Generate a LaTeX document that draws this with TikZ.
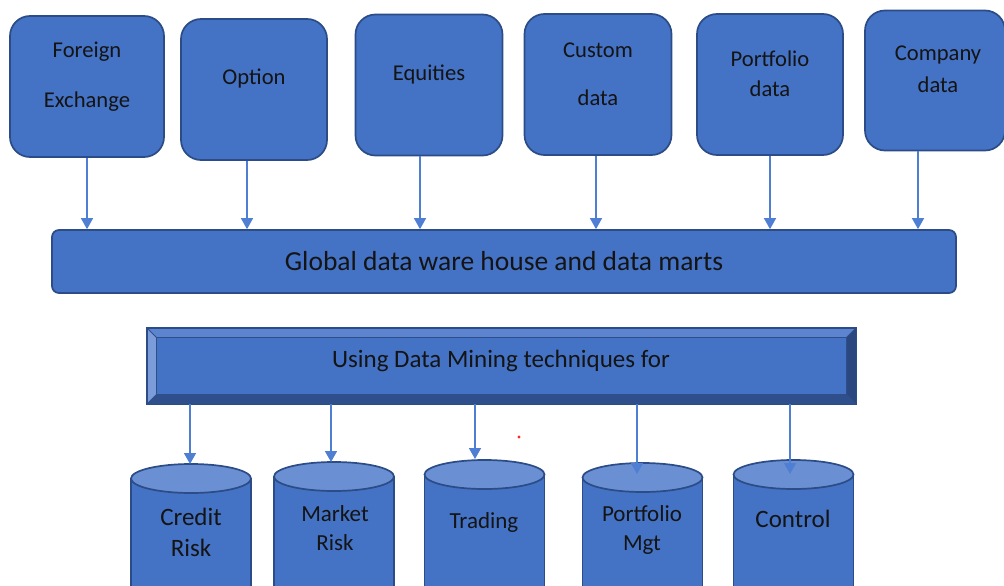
\documentclass[tikz,border=0pt]{standalone}
\usepackage{fontspec}
\setmainfont{Carlito}
\usetikzlibrary{arrows.meta,shapes.geometric}
\definecolor{boxfill}{HTML}{4472C4}
\definecolor{boxline}{HTML}{2B4C86}
\definecolor{arrowcol}{HTML}{4F7FD3}
\definecolor{capfill}{HTML}{6A8FD3}
\definecolor{txt}{HTML}{141414}
\definecolor{bevlight}{HTML}{7C9BD9}
\definecolor{bevtop}{HTML}{5D84CE}
\definecolor{bevdark}{HTML}{2E4F8C}
\definecolor{bevright}{HTML}{2A4780}
\tikzset{
  srcbox/.style={draw=boxline, fill=boxfill, line width=1.7pt, rounded corners=20pt},
  label/.style={inner sep=0pt, text=txt, anchor=center},
  feed/.style={draw=arrowcol, line width=1.6pt, -{Triangle[width=12pt,length=11pt]}},
  capstyle/.style={ellipse, draw=boxline, fill=capfill, line width=1.7pt, inner sep=0pt},
}
\begin{document}
\begin{tikzpicture}[x=1pt,y=-1pt]
\useasboundingbox (0,0) rectangle (1004,586);
\clip (0,0) rectangle (1004,586);

% source boxes
\node[srcbox, minimum width=154pt, minimum height=141pt] (fx) at (87,86.5) {};
\node[srcbox, minimum width=146pt, minimum height=141pt] (opt) at (254,89.5) {};
\node[srcbox, minimum width=147pt, minimum height=141pt] (eq) at (429,85) {};
\node[srcbox, minimum width=147pt, minimum height=141pt] (cus) at (598,84.5) {};
\node[srcbox, minimum width=146pt, minimum height=141pt] (pf) at (770,84.5) {};
\node[srcbox, minimum width=140pt, minimum height=140pt] (co) at (935,80.5) {};

\begin{scope}[font=\fontsize{22.6}{25}\selectfont]
\node[label] (fx1) at (87,52) {Foreign};
\node[label] (fx2) at (87,102) {Exchange};
\node[label] (opt1) at (254,79) {Option};
\node[label] (eq1) at (429,75) {Equities};
\node[label] (cus1) at (598,50) {Custom};
\node[label] (cus2) at (598,98) {data};
\node[label] (pf1) at (770,59) {Portfolio};
\node[label] (pf2) at (770,89) {data};
\node[label] (co1) at (938,55) {Company};
\node[label] (co2) at (938,85) {data};
\end{scope}

% warehouse bar
\node[draw=boxline, fill=boxfill, line width=1.7pt, rounded corners=7pt,
      minimum width=904pt, minimum height=63pt] (gdw) at (504,261.5) {};
\node[label, font=\fontsize{27.5}{30}\selectfont] (gdwt) at (504,261) {Global data ware house and data marts};

% feeds into the warehouse
\foreach \src/\xx in {fx/87, opt/247, eq/420, cus/596, pf/770, co/918}
  \draw[feed] (\src.south -| \xx,0) -- (gdw.north -| \xx,0);

% bevelled banner
\node[inner sep=0pt, minimum width=709pt, minimum height=76pt] (dm) at (501.5,366) {};
\fill[bevtop] (dm.north west) -- (dm.north east) -- ([xshift=-10pt,yshift=-10pt]dm.north east) -- ([xshift=10pt,yshift=-10pt]dm.north west) -- cycle;
\fill[bevlight] (dm.north west) -- ([xshift=10pt,yshift=-10pt]dm.north west) -- ([xshift=10pt,yshift=10pt]dm.south west) -- (dm.south west) -- cycle;
\fill[bevdark] (dm.south west) -- ([xshift=10pt,yshift=10pt]dm.south west) -- ([xshift=-10pt,yshift=10pt]dm.south east) -- (dm.south east) -- cycle;
\fill[bevright] (dm.north east) -- (dm.south east) -- ([xshift=-10pt,yshift=10pt]dm.south east) -- ([xshift=-10pt,yshift=-10pt]dm.north east) -- cycle;
\fill[boxfill] ([xshift=10pt,yshift=-10pt]dm.north west) rectangle ([xshift=-10pt,yshift=10pt]dm.south east);
\draw[bevdark, line width=1pt] ([xshift=10pt,yshift=-10pt]dm.north west) rectangle ([xshift=-10pt,yshift=10pt]dm.south east);
\draw[bevdark, line width=1pt] (dm.north west) -- ([xshift=10pt,yshift=-10pt]dm.north west)
  (dm.north east) -- ([xshift=-10pt,yshift=-10pt]dm.north east)
  (dm.south west) -- ([xshift=10pt,yshift=10pt]dm.south west)
  (dm.south east) -- ([xshift=-10pt,yshift=10pt]dm.south east);
\draw[boxline, line width=1.4pt] (dm.north west) rectangle (dm.south east);
\node[label, font=\fontsize{25}{27}\selectfont] (dmt) at (501,361) {Using Data Mining techniques for};

% storage cylinders: body first, then the lighter top cap
\foreach \nm/\cx/\ty in {cr/191/464, mr/334/462, tr/484.5/460, pm/642.5/463, ct/793.5/460} {
  \filldraw[draw=boxline, fill=boxfill, line width=1.7pt]
    (\cx-60,\ty+14.5) -- (\cx-60,600) -- (\cx+60,600) -- (\cx+60,\ty+14.5) -- cycle;
  \node[capstyle, minimum width=120pt, minimum height=29pt] (\nm) at (\cx,\ty+14.5) {};
}
\coordinate (crin) at (190,464);
\coordinate (mrin) at (331,462);
\coordinate (trin) at (475,459);
\coordinate (pmin) at (637,474);
\coordinate (ctin) at (790,474);

\foreach \tgt/\xx in {crin/190, mrin/331, trin/475, pmin/637, ctin/790}
  \draw[feed] (dm.south -| \xx,0) -- (\tgt);

\begin{scope}[font=\fontsize{25}{27}\selectfont]
\node[label] (cr1) at (191,517) {Credit};
\node[label] (cr2) at (191,548) {Risk};
\node[label] (ct1) at (793,519) {Control};
\end{scope}
\begin{scope}[font=\fontsize{23}{25}\selectfont]
\node[label] (mr1) at (335,514) {Market};
\node[label] (mr2) at (335,543) {Risk};
\node[label] (tr1) at (484,522) {Trading};
\node[label] (pm1) at (642,514) {Portfolio};
\node[label] (pm2) at (642,545) {Mgt};
\end{scope}

% small red mark
\fill[red!85] (519,437) circle (1.6pt);
\end{tikzpicture}
\end{document}
